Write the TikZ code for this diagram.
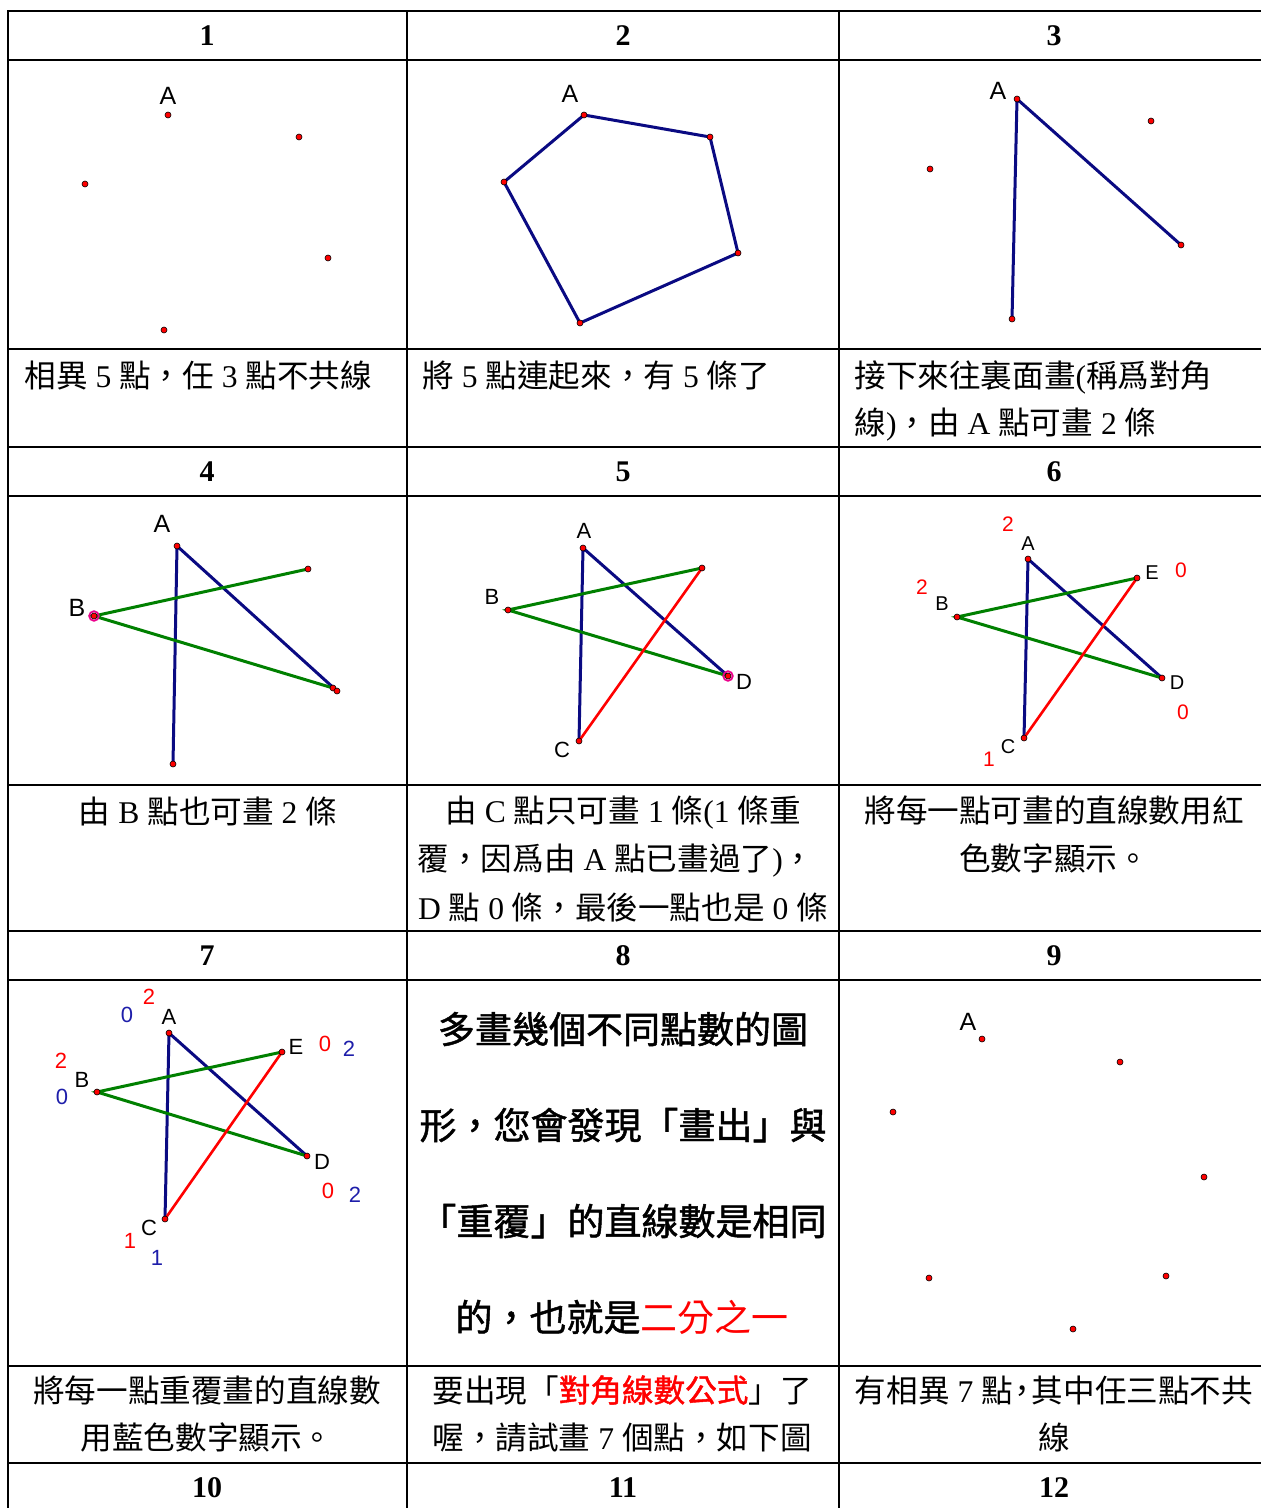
\documentclass[tikz,border=0pt]{standalone}
\usepackage{fontspec}
\usepackage{xcolor}
\setmainfont{Liberation Serif}
\newfontfamily\cjk{Noto Sans CJK TC}
\newfontfamily\cjkbold[FakeBold=1.3]{Noto Sans CJK TC}
\newfontfamily\arial{Liberation Sans}
\newcommand\tm[1]{{\rmfamily #1}}
\definecolor{segblue}{RGB}{10,10,130}
\definecolor{seggreen}{RGB}{0,128,0}
\definecolor{numblue}{RGB}{30,30,170}

\begin{document}
\begin{tikzpicture}[x=0.5pt, y=-0.5pt,
  gridln/.style={line width=1pt, line cap=rect},
  hdr/.style={font=\fontsize{15}{18}\selectfont\bfseries, inner sep=0pt},
  capt/.style={font=\cjk\fontsize{15.8}{20}\selectfont, inner sep=0pt, text height=13.9pt, text depth=1.9pt},
  bigtxt/.style={font=\cjkbold\fontsize{18.5}{22}\selectfont, inner sep=0pt, text height=16.3pt, text depth=2.2pt},
  lbl/.style={font=\arial\fontsize{#1}{#1}\selectfont, inner sep=0pt},
  lbl/.default=12.5,
  rnum/.style={lbl=#1, text=red}, rnum/.default=10.5,
  bnum/.style={lbl=#1, text=numblue}, bnum/.default=11,
  ptdot/.style={circle, fill=red, draw=black, line width=0.3pt, inner sep=0pt, minimum size=3pt},
  ptring/.style={circle, draw=magenta, line width=0.9pt, inner sep=0pt, minimum size=4.8pt},
  bseg/.style={draw=segblue, line width=1.5pt, line join=round},
  gseg/.style={draw=seggreen, line width=1.5pt},
  rseg/.style={draw=red, line width=1.3pt}]

\path[use as bounding box, fill=white] (0,0) rectangle (1261,1508);

% Table grid
\foreach \y in {11,60,349,447,496,785,931,980,1366,1463}
  \draw[gridln] (8,\y) -- (1261,\y);
\foreach \x in {8,407,839}
  \draw[gridln] (\x,11) -- (\x,1508);

% Step numbers
\foreach \n/\x/\y in {1/207/36, 2/623/36, 3/1054/36, 4/207/472, 5/623/472, 6/1054/472,
                      7/207/956, 8/623/956, 9/1054/956, 10/207/1488, 11/623/1488, 12/1054/1488}
  \node[hdr] (h\n) at (\x,\y) {\n};

% 1: five points
\coordinate (p1a) at (168,115);
\coordinate (p1b) at (299,137);
\coordinate (p1c) at (328,258);
\coordinate (p1d) at (164,330);
\coordinate (p1e) at (85,184);
\foreach \p in {p1a,p1b,p1c,p1d,p1e} \node[ptdot] (d\p) at (\p) {};
\node[lbl] (l1A) at (168,96) {A};

% 2: pentagon
\coordinate (p2a) at (584,115);
\coordinate (p2b) at (710,137);
\coordinate (p2c) at (738,253);
\coordinate (p2d) at (580,323);
\coordinate (p2e) at (504,182);
\draw[bseg] (p2a) -- (p2b) -- (p2c) -- (p2d) -- (p2e) -- cycle;
\foreach \p in {p2a,p2b,p2c,p2d,p2e} \node[ptdot] (d\p) at (\p) {};
\node[lbl] (l2A) at (570,94) {A};

% 3: diagonals from A
\coordinate (p3a) at (1017,99);
\coordinate (p3b) at (1151,121);
\coordinate (p3c) at (1181,245);
\coordinate (p3d) at (1012,319);
\coordinate (p3e) at (930,169);
\draw[bseg] (p3d) -- (p3a) -- (p3c);
\foreach \p in {p3a,p3b,p3c,p3d,p3e} \node[ptdot] (d\p) at (\p) {};
\node[lbl] (l3A) at (998,91) {A};

% 4: diagonals from B
\coordinate (p4a) at (177,546);
\coordinate (p4b) at (94,616);
\coordinate (p4c) at (173,764);
\coordinate (p4d) at (333,688);
\coordinate (p4f) at (337,691);
\coordinate (p4e) at (308,569);
\draw[bseg] (p4c) -- (p4a) -- (p4f);
\draw[gseg] (p4e) -- (p4b) -- (p4d);
\node[ptring] (r4b) at (p4b) {};
\foreach \p in {p4a,p4b,p4c,p4d,p4f,p4e} \node[ptdot] (d\p) at (\p) {};
\node[lbl] (l4A) at (162,524) {A};
\node[lbl] (l4B) at (77,608) {B};

% 5: diagonal from C
\coordinate (p5a) at (583,548);
\coordinate (p5b) at (508,610);
\coordinate (p5c) at (579,741);
\coordinate (p5d) at (728,676);
\coordinate (p5e) at (702,568);
\draw[bseg] (p5c) -- (p5a) -- (p5d);
\draw[gseg] (p5e) -- (p5b) -- (p5d);
\draw[rseg] (p5c) -- (p5e);
\node[ptring] (r5d) at (p5d) {};
\foreach \p in {p5a,p5b,p5c,p5d,p5e} \node[ptdot] (d\p) at (\p) {};
\node[lbl=11] (l5A) at (584,531) {A};
\node[lbl=11] (l5B) at (492,597) {B};
\node[lbl=11] (l5C) at (562,750) {C};
\node[lbl=11] (l5D) at (744,682) {D};

% 6: red counts
\coordinate (p6a) at (1028,559);
\coordinate (p6b) at (957,617);
\coordinate (p6c) at (1024,738);
\coordinate (p6d) at (1162,678);
\coordinate (p6e) at (1137,578);
\draw[bseg] (p6c) -- (p6a) -- (p6d);
\draw[gseg] (p6e) -- (p6b) -- (p6d);
\draw[rseg] (p6c) -- (p6e);
\foreach \p in {p6a,p6b,p6c,p6d,p6e} \node[ptdot] (d\p) at (\p) {};
\node[lbl=10] (l6A) at (1028,544) {A};
\node[lbl=10] (l6B) at (942,604) {B};
\node[lbl=10] (l6C) at (1008,747) {C};
\node[lbl=10] (l6D) at (1177,683) {D};
\node[lbl=10] (l6E) at (1152,573) {E};
\node[rnum] (n6A) at (1008,524) {2};
\node[rnum] (n6B) at (922,587) {2};
\node[rnum] (n6C) at (989,759) {1};
\node[rnum] (n6D) at (1183,712) {0};
\node[rnum] (n6E) at (1181,570) {0};

% 7: red and blue counts
\coordinate (p7a) at (169,1033);
\coordinate (p7b) at (97,1092);
\coordinate (p7c) at (165,1219);
\coordinate (p7d) at (307,1156);
\coordinate (p7e) at (282,1052);
\draw[bseg] (p7c) -- (p7a) -- (p7d);
\draw[gseg] (p7e) -- (p7b) -- (p7d);
\draw[rseg] (p7c) -- (p7e);
\foreach \p in {p7a,p7b,p7c,p7d,p7e} \node[ptdot] (d\p) at (\p) {};
\node[lbl=11] (l7A) at (169,1017) {A};
\node[lbl=11] (l7B) at (82,1080) {B};
\node[lbl=11] (l7C) at (149,1228) {C};
\node[lbl=11] (l7D) at (322,1162) {D};
\node[lbl=11] (l7E) at (296,1047) {E};
\node[rnum=11] (n7A) at (149,997) {2};
\node[bnum] (m7A) at (127,1015) {0};
\node[rnum=11] (n7B) at (61,1061) {2};
\node[bnum] (m7B) at (62,1097) {0};
\node[rnum=11] (n7C) at (130,1241) {1};
\node[bnum] (m7C) at (157,1258) {1};
\node[rnum=11] (n7D) at (328,1191) {0};
\node[bnum] (m7D) at (355,1195) {2};
\node[rnum=11] (n7E) at (325,1044) {0};
\node[bnum] (m7E) at (349,1049) {2};

% 8: remark
\node[bigtxt] (b1) at (623,1029) {多畫幾個不同點數的圖};
\node[bigtxt] (b2) at (623,1125) {形，您會發現「畫出」與};
\node[bigtxt] (b3) at (623,1221) {「重覆」的直線數是相同};
\node[bigtxt] (b4) at (622,1317) {的，也就是{\cjk\color{red}二分之一}};

% 9: seven points
\coordinate (p9a) at (982,1039);
\coordinate (p9b) at (1120,1062);
\coordinate (p9c) at (1204,1177);
\coordinate (p9d) at (1166,1276);
\coordinate (p9e) at (1073,1329);
\coordinate (p9f) at (929,1278);
\coordinate (p9g) at (893,1112);
\foreach \p in {p9a,p9b,p9c,p9d,p9e,p9f,p9g} \node[ptdot] (d\p) at (\p) {};
\node[lbl] (l9A) at (968,1022) {A};

% Captions
\node[capt, anchor=west] (c1) at (24,375) {相異\tm{ 5 }點，任\tm{ 3 }點不共線};
\node[capt, anchor=west] (c2) at (422,375) {將\tm{ 5 }點連起來，有\tm{ 5 }條了};
\node[capt, anchor=west] (c3a) at (854,375) {接下來往裏面畫\tm{(}稱爲對角};
\node[capt, anchor=west] (c3b) at (854,422) {線\tm{)}，由\tm{ A }點可畫\tm{ 2 }條};
\node[capt] (c4) at (208,811) {由\tm{ B }點也可畫\tm{ 2 }條};
\node[capt] (c5a) at (623,810) {由\tm{ C }點只可畫\tm{ 1 }條\tm{(1 }條重};
\node[capt] (c5b) at (616,858) {覆，因爲由\tm{ A }點已畫過了\tm{)}，};
\node[capt] (c5c) at (623,907) {\tm{D }點\tm{ 0 }條，最後一點也是\tm{ 0 }條};
\node[capt] (c6a) at (1054,810) {將每一點可畫的直線數用紅};
\node[capt] (c6b) at (1054,858) {色數字顯示。};
\node[capt] (c7a) at (207,1390) {將每一點重覆畫的直線數};
\node[capt] (c7b) at (207,1437) {用藍色數字顯示。};
\node[capt] (c8a) at (622,1390) {要出現「{\cjkbold\color{red}對角線數公式}」了};
\node[capt] (c8b) at (622,1437) {喔，請試畫\tm{ 7 }個點，如下圖};
\node[capt] (c9a) at (1054,1390) {有相異\tm{ 7 }點\makebox[0.6em][c]{，}其中任三點不共};
\node[capt] (c9b) at (1054,1437) {線};
\end{tikzpicture}
\end{document}
